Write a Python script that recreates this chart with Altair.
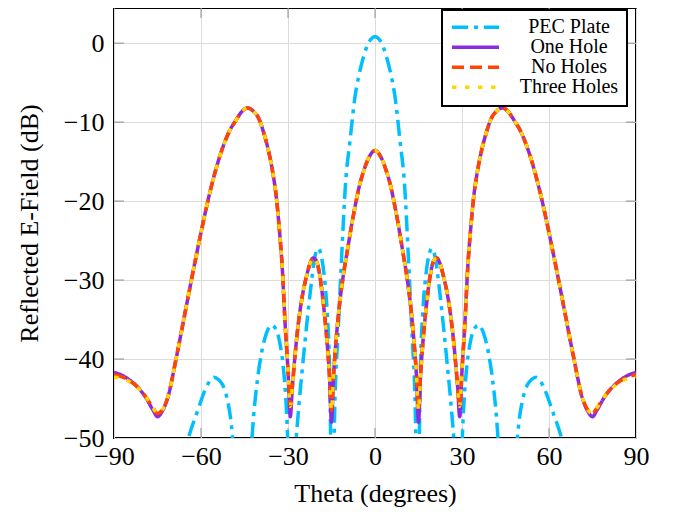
import altair as alt
import pandas as pd

# ---------------- data ----------------
theta_main = [-90, -87, -84.5, -82, -79, -76.5, -75, -73.5, -71.4, -68.5, -65, -62.5, -60, -57,
              -53.5, -50, -48, -46, -44, -42, -40, -38.5, -36.5, -35.2, -34, -33, -32, -31, -30,
              -29.2, -28.5, -27.8, -26.9, -25.9, -24.8, -23.6, -22.4, -21.3, -20.2, -19, -17.8,
              -16.5, -15.7, -15, -14.3, -13.5, -12.5, -11, -9.5, -8, -6.5, -5.2, -4, -2, 0,
              2, 4, 5.2, 6.5, 8, 9.5, 11, 12.5, 13.5, 14.3, 15, 15.7, 16.5, 17.8, 19, 20.2, 21.3,
              22.4, 23.6, 24.8, 25.9, 26.9, 27.8, 28.5, 29.2, 30, 31, 32, 33, 34, 35.2, 36.5,
              38.5, 40, 42, 44, 46, 48, 50, 53.5, 57, 60, 62.5, 65, 68.5, 71.4, 73.5, 75, 76.5,
              79, 82, 84.5, 87, 90]

no_holes = [-42.0, -42.3, -42.8, -43.5, -44.8, -46.2, -46.9, -46.5, -44.8, -39.8, -33.2, -28.5,
            -24.0, -19.0, -14.3, -11.0, -9.8, -8.7, -8.2, -8.6, -9.6, -11.2, -14.0, -16.5, -19.6,
            -23.5, -28.3, -35.5, -41.3, -46.0, -43.5, -40.5, -37.0, -34.0, -31.5, -29.5, -27.9,
            -27.2, -27.6, -29.5, -33.0, -38.0, -42.0, -46.5, -42.0, -38.0, -34.0, -29.6, -26.2,
            -22.9, -20.0, -17.8, -16.3, -14.4, -13.6,
            -14.4, -16.3, -17.8, -20.0, -22.9, -26.2, -29.6, -34.0, -38.0, -42.0, -46.5, -42.0,
            -38.0, -33.0, -29.5, -27.6, -27.2, -27.9, -29.5, -31.5, -34.0, -37.0, -40.5, -43.5,
            -46.0, -41.3, -35.5, -28.3, -23.5, -19.6, -16.5, -14.0, -11.2, -9.6, -8.6, -8.2,
            -8.7, -9.8, -11.0, -14.3, -19.0, -24.0, -28.5, -33.2, -39.8, -44.8, -46.5, -46.9,
            -46.2, -44.8, -43.5, -42.8, -42.3, -42.0]

one_hole = [-41.7, -42.1, -42.7, -43.5, -44.9, -46.5, -47.3, -46.7, -44.8, -39.8, -33.2, -28.5,
            -24.0, -19.0, -14.3, -11.0, -9.8, -8.7, -8.2, -8.6, -9.6, -11.2, -14.0, -16.5, -19.6,
            -23.5, -28.3, -35.5, -41.5, -47.3, -43.5, -40.5, -37.0, -34.0, -31.5, -29.5, -27.9,
            -27.2, -27.6, -29.5, -33.0, -38.0, -42.2, -48.0, -42.2, -38.0, -34.0, -29.6, -26.2,
            -22.9, -20.0, -17.8, -16.3, -14.4, -13.6,
            -14.4, -16.3, -17.8, -20.0, -22.9, -26.2, -29.6, -34.0, -38.0, -42.2, -48.0, -42.2,
            -38.0, -33.0, -29.5, -27.6, -27.2, -27.9, -29.5, -31.5, -34.0, -37.0, -40.5, -43.5,
            -47.3, -41.5, -35.5, -28.3, -23.5, -19.6, -16.5, -14.0, -11.2, -9.6, -8.6, -8.2,
            -8.7, -9.8, -11.0, -14.3, -19.0, -24.0, -28.5, -33.2, -39.8, -44.8, -46.7, -47.3,
            -46.5, -44.9, -43.5, -42.7, -42.1, -41.7]

three_holes = [-42.3, -42.5, -42.9, -43.6, -44.8, -46.2, -46.9, -46.5, -44.8, -39.8, -33.2, -28.5,
               -24.0, -19.0, -14.3, -11.0, -9.8, -8.7, -8.2, -8.6, -9.6, -11.2, -14.0, -16.5, -19.6,
               -23.5, -28.3, -35.5, -41.3, -46.0, -43.5, -40.5, -37.0, -34.0, -31.5, -29.5, -27.9,
               -27.2, -27.6, -29.5, -33.0, -38.0, -42.0, -46.5, -42.0, -38.0, -34.0, -29.6, -26.2,
               -22.9, -20.0, -17.8, -16.3, -14.4, -13.6,
               -14.4, -16.3, -17.8, -20.0, -22.9, -26.2, -29.6, -34.0, -38.0, -42.0, -46.5, -42.0,
               -38.0, -33.0, -29.5, -27.6, -27.2, -27.9, -29.5, -31.5, -34.0, -37.0, -40.5, -43.5,
               -46.0, -41.3, -35.5, -28.3, -23.5, -19.6, -16.5, -14.0, -11.2, -9.6, -8.6, -8.2,
               -8.7, -9.8, -11.0, -14.3, -19.0, -24.0, -28.5, -33.2, -39.8, -44.8, -46.5, -46.9,
               -46.2, -44.8, -43.6, -42.9, -42.5, -42.3]

theta_pec = [-90, -84, -78, -72, -67, -65, -63.5, -61.6, -60.2, -58.7, -57, -55.5, -54, -52.5,
             -51, -49.8, -48.6, -45.5, -42.8, -41.8, -40.5, -39, -37.3, -35.7, -34.2, -32.8,
             -31.5, -30.6, -29.9, -28.8, -27.5, -26.5, -25, -23.5, -22, -20.7, -19.6, -18.5,
             -17.5, -16.5, -15.6, -14.8, -13.8, -12.7, -11.5, -10.2, -8.6, -6.9, -5.5, -4, -2, 0,
             2, 4, 5.5, 6.9, 8.6, 10.2, 11.5, 12.7, 13.8, 14.8, 15.6, 16.5, 17.5, 18.5, 19.6,
             20.7, 22, 23.5, 25, 26.5, 27.5, 28.8, 29.9, 30.6, 31.5, 32.8, 34.2, 35.7, 37.3, 39,
             40.5, 41.8, 42.8, 45.5, 48.6, 49.8, 51, 52.5, 54, 55.5, 57, 58.7, 60.2, 61.6, 63.5,
             65, 67, 72, 78, 84, 90]

pec_plate = [-57, -60, -58, -62, -56, -51, -49, -47, -45.5, -44, -42.8, -42.3, -42.6, -43.3,
             -45, -47.5, -52, -68, -52, -47, -42.5, -39, -36.6, -35.7, -36.2, -38, -41.5, -46,
             -52, -65, -52, -47, -41, -35.5, -30.5, -27, -26, -27, -29.5, -34, -42, -62, -45,
             -36.4, -27, -18, -12.3, -6.8, -4, -1.8, 0.2, 0.8,
             0.2, -1.8, -4, -6.8, -12.3, -18, -27, -36.4, -45, -62, -42, -34, -29.5, -27, -26,
             -27, -30.5, -35.5, -41, -47, -52, -65, -52, -46, -41.5, -38, -36.2, -35.7, -36.6,
             -39, -42.5, -47, -52, -68, -52, -47.5, -45, -43.3, -42.6, -42.3, -42.8, -44, -45.5,
             -47, -49, -51, -56, -62, -58, -60, -57]

x_ticks = [-90, -60, -30, 0, 30, 60, 90]
y_ticks = [-50, -40, -30, -20, -10, 0]
x_inner = [-60, -30, 0, 30, 60]
y_inner = [-40, -30, -20, -10, 0]

series_names = ["PEC Plate", "One Hole", "No Holes", "Three Holes"]
series_colors = ["#00BFFF", "#8A2BE2", "#FF4500", "#FFD700"]
series_dash = [[16, 6, 4, 6], [1, 0], [12, 6], [4.5, 8.5]]
series_width = [3.5, 3.5, 3.5, 3.5]

# ---------------- build table ----------------
rows = []
for t, v in zip(theta_pec, pec_plate):
    rows.append({"theta": t, "dB": v, "series": "PEC Plate"})
for name, vals in [("One Hole", one_hole), ("No Holes", no_holes), ("Three Holes", three_holes)]:
    for t, v in zip(theta_main, vals):
        rows.append({"theta": t, "dB": v, "series": name})
df = pd.DataFrame(rows)

W, H = 522, 430
FONT = "Liberation Serif"
xs = alt.Scale(domain=[-90, 90], nice=False, zero=False)
ys = alt.Scale(domain=[-50, 4.45], nice=False, zero=False)

xaxis = alt.Axis(values=x_ticks, title="Theta (degrees)", grid=True, ticks=False, domain=False,
                 labelFont=FONT, labelFontSize=26, labelColor="black", labelPadding=5,
                 titleFont=FONT, titleFontSize=26, titleFontWeight="normal", titleColor="black",
                 titlePadding=11, labelFlush=False)
yaxis = alt.Axis(values=y_ticks, title="Reflected E-Field (dB)", grid=True, ticks=False, domain=False,
                 labelFont=FONT, labelFontSize=26, labelColor="black", labelPadding=10,
                 titleFont=FONT, titleFontSize=26, titleFontWeight="normal", titleColor="black",
                 titlePadding=21, labelFlush=False)

leg = alt.Legend(title=None, orient="none", legendX=328, legendY=2,
                 labelFont=FONT, labelFontSize=20, labelColor="black", labelAlign="center",
                 labelOffset=68, labelExpr="datum.label + '\u00a0'",
                 symbolType="stroke", symbolSize=2209, symbolStrokeWidth=3.5, symbolOffset=0,
                 clipHeight=18.6, strokeColor="black", fillColor="white", padding=8, rowPadding=-1,
                 labelLimit=0, cornerRadius=0)

color = alt.Color("series:N", scale=alt.Scale(domain=series_names, range=series_colors), legend=leg)
dash = alt.StrokeDash("series:N", scale=alt.Scale(domain=series_names, range=series_dash), legend=leg)

X = alt.X("theta:Q", scale=xs, axis=xaxis)
Y = alt.Y("dB:Q", scale=ys, axis=yaxis)

layers = []
# inner tick marks (pgfplots style)
tx = pd.DataFrame({"theta": x_inner})
ty = pd.DataFrame({"dB": y_inner})
tick_color = "#8c8c8c"
layers.append(alt.Chart(tx).mark_rule(color=tick_color, strokeWidth=1).encode(
    x=X, y=alt.value(H), y2=alt.value(H - 10)))
layers.append(alt.Chart(tx).mark_rule(color=tick_color, strokeWidth=1).encode(
    x=X, y=alt.value(0), y2=alt.value(10)))
layers.append(alt.Chart(ty).mark_rule(color=tick_color, strokeWidth=1).encode(
    y=Y, x=alt.value(0), x2=alt.value(10)))
layers.append(alt.Chart(ty).mark_rule(color=tick_color, strokeWidth=1).encode(
    y=Y, x=alt.value(W - 10), x2=alt.value(W)))

for name, w in zip(series_names, series_width):
    layers.append(
        alt.Chart(df).transform_filter(alt.datum.series == name)
        .mark_line(strokeWidth=w, clip=True, interpolate="monotone", strokeCap="butt")
        .encode(x=X, y=Y, color=color, strokeDash=dash, order="theta:Q")
    )

chart = alt.layer(*layers).properties(
    width=W, height=H,
    autosize=alt.AutoSizeParams(type="none"),
    padding={"left": 106, "top": 0, "right": 29, "bottom": 74},
).configure_view(stroke="black", strokeWidth=2).configure_axis(
    gridColor="#dcdcdc", gridWidth=1
).configure_legend(strokeWidth=2)

chart.save("out.html", embed_options={"renderer": "svg", "actions": False})
